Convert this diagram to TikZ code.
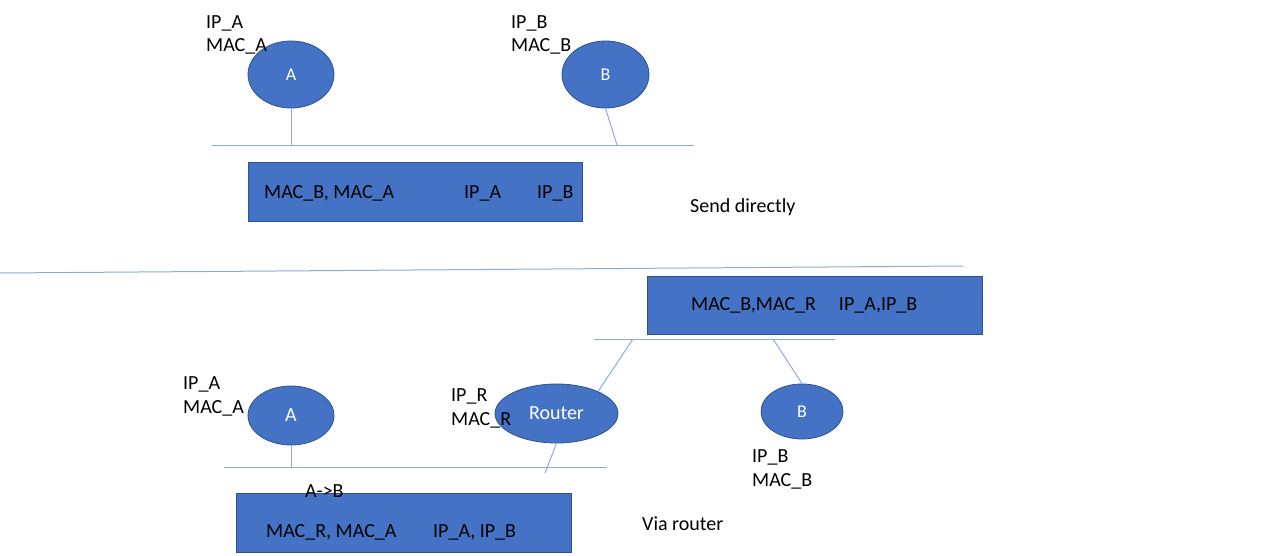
\documentclass[tikz,border=0pt]{standalone}
\usepackage{fontspec}
\setmainfont{Carlito}
\usetikzlibrary{shapes.geometric}
\definecolor{boxblue}{HTML}{4472C4}
\definecolor{edgeblue}{HTML}{2F528F}
\definecolor{wireblue}{HTML}{8FAADC}
\tikzset{
  host/.style={ellipse, fill=boxblue, draw=edgeblue, line width=0.8pt, inner sep=0pt, text=white},
  frame/.style={rectangle, fill=boxblue, draw=edgeblue, line width=0.8pt, inner sep=0pt, anchor=north west},
  wire/.style={draw=wireblue, line width=1pt},
  lbl/.style={anchor=base west, inner sep=0pt, font=\fontsize{20}{24}\selectfont},
}
\begin{document}
\begin{tikzpicture}[x=1pt,y=-1pt]
\useasboundingbox (0,0) rectangle (1280,555);
% ---------- top: send directly ----------
\coordinate (bus1l) at (212,145);
\coordinate (bus1r) at (694,145);
\draw[wire] (bus1l) -- (bus1r);
\node[host, minimum width=86pt, minimum height=67pt, font=\fontsize{18}{21}\selectfont] (A1) at (291,74.5) {A};
\node[host, minimum width=87pt, minimum height=67pt, font=\fontsize{18}{21}\selectfont] (B1) at (605.5,74.5) {B};
\coordinate (tapB1) at (617,145);
\draw[wire] (A1.south) -- (A1.south |- bus1l);
\draw[wire] (B1.south) -- (tapB1);
\node[lbl] (ipa1) at (206,28) {IP\_A};
\node[lbl] (maca1) at (206,51) {MAC\_A};
\node[lbl] (ipb1) at (511,28) {IP\_B};
\node[lbl] (macb1) at (511,51) {MAC\_B};
\node[frame, minimum width=334pt, minimum height=59pt] (F1) at (248,162) {};
\node[lbl] (f1a) at (264,198) {MAC\_B, MAC\_A};
\node[lbl] (f1b) at (464,198) {IP\_A};
\node[lbl] (f1c) at (537,198) {IP\_B};
\node[lbl] (send) at (690,212.5) {Send directly};
% ---------- divider ----------
\coordinate (divl) at (0,273);
\coordinate (divr) at (963,266);
\draw[wire] (divl) -- (divr);
% ---------- bottom: via router ----------
\node[frame, minimum width=335pt, minimum height=58pt] (F2) at (647,276) {};
\node[lbl] (f2a) at (691,310) {MAC\_B,MAC\_R\hspace{23pt}IP\_A,IP\_B};
\coordinate (bus2l) at (594,339);
\coordinate (bus2r) at (835,339);
\draw[wire] (bus2l) -- (bus2r);
\coordinate (bus3l) at (224,467);
\coordinate (bus3r) at (607,467);
\draw[wire] (bus3l) -- (bus3r);
\node[host, minimum width=86pt, minimum height=59pt, font=\fontsize{20}{24}\selectfont] (A2) at (291,415.5) {A};
\node[host, minimum width=123pt, minimum height=59pt, font=\fontsize{20}{24}\selectfont] (R) at (556.5,413.5) {Router};
\node[host, minimum width=82pt, minimum height=55pt, font=\fontsize{18}{21}\selectfont] (B2) at (802,411.5) {B};
\coordinate (tapR) at (633,339);
\coordinate (tapB2) at (773,339);
\coordinate (tapR2) at (545,473);
\draw[wire] (R.28) -- (tapR);
\draw[wire] (B2.north) -- (tapB2);
\draw[wire] (R.south) -- (tapR2);
\draw[wire] (A2.south) -- (A2.south |- bus3l);
\node[lbl] (ipa2) at (183,389) {IP\_A};
\node[lbl] (maca2) at (183,413) {MAC\_A};
\node[lbl] (ipr) at (451,401) {IP\_R};
\node[lbl] (macr) at (451,425) {MAC\_R};
\node[lbl] (ipb2) at (752,462) {IP\_B};
\node[lbl] (macb2) at (752,486) {MAC\_B};
\node[frame, minimum width=335pt, minimum height=59pt] (F3) at (236,493) {};
\node[lbl] (arrow) at (305,497) {A->B};
\node[lbl] (f3a) at (266,537) {MAC\_R, MAC\_A};
\node[lbl] (f3b) at (433,537) {IP\_A, IP\_B};
\node[lbl] (via) at (642,530) {Via router};
\end{tikzpicture}
\end{document}
